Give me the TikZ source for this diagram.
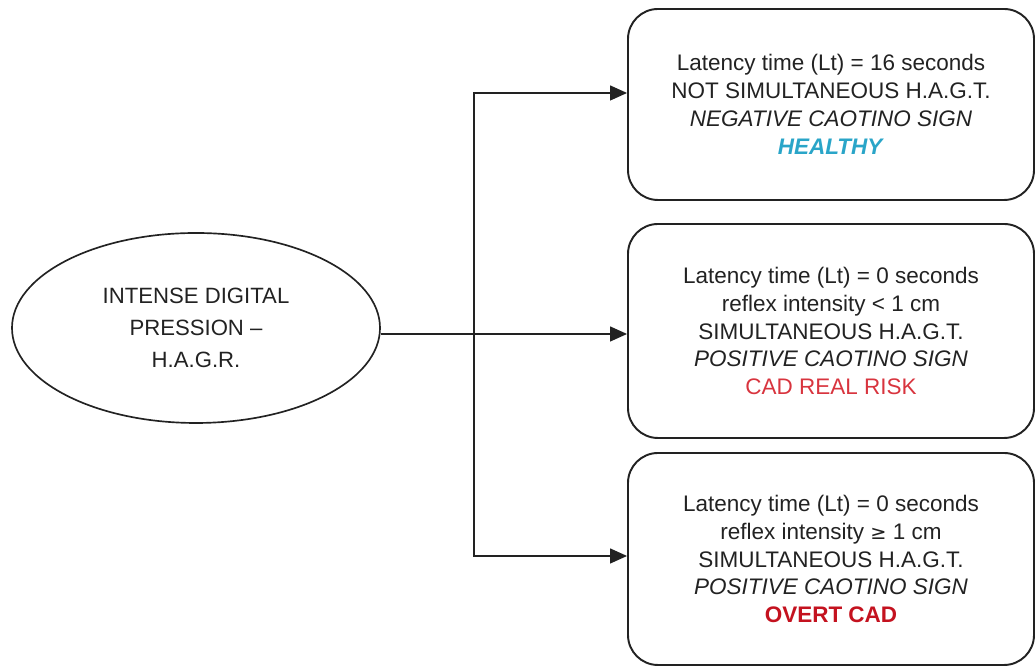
\documentclass[tikz,border=0pt]{standalone}
\usepackage{fontspec}
\setmainfont{Liberation Sans}
\usetikzlibrary{arrows.meta,shapes.geometric}
\definecolor{ink}{HTML}{222222}
\definecolor{healthy}{HTML}{2AA5C8}
\definecolor{risk}{HTML}{D8343E}
\definecolor{overt}{HTML}{C4121F}
\newcommand{\gte}{{\fontspec{DejaVu Sans}\fontsize{11}{16}\selectfont ≥}}
\begin{document}
\begin{tikzpicture}[
   box/.style={draw=ink, line width=1.1pt, rounded corners=0.6cm, minimum width=8.12cm,
               align=center, text=ink, font=\fontsize{12.8}{15.8}\selectfont},
   lead/.style={draw=ink, line width=0.75pt},
   tip/.style={-{Triangle[length=0.34cm,width=0.3cm]}}]
   \useasboundingbox (0,0) rectangle (20.72,13.32);
   \node[ellipse, draw=ink, line width=0.95pt, minimum width=7.36cm, minimum height=3.80cm,
         align=center, text=ink, font=\fontsize{12.6}{18}\selectfont]
      (hagr) at (3.92,6.76) {INTENSE DIGITAL\\PRESSION --\\H.A.G.R.};
   \node[box, minimum height=3.82cm] (healthy) at (16.62,11.23)
      {Latency time (Lt) = 16 seconds\\NOT SIMULTANEOUS H.A.G.T.\\
       \textit{NEGATIVE CAOTINO SIGN}\\\textcolor{healthy}{\textbf{\textit{HEALTHY}}}};
   \node[box, minimum height=4.28cm] (risk) at (16.62,6.70)
      {Latency time (Lt) = 0 seconds\\reflex intensity < 1 cm\\SIMULTANEOUS H.A.G.T.\\
       \textit{POSITIVE CAOTINO SIGN}\\\textcolor{risk}{CAD REAL RISK}};
   \node[box, minimum height=4.24cm] (overt) at (16.62,2.14)
      {Latency time (Lt) = 0 seconds\\reflex intensity \gte{} 1 cm\\SIMULTANEOUS H.A.G.T.\\
       \textit{POSITIVE CAOTINO SIGN}\\\textcolor{overt}{\textbf{OVERT CAD}}};
   \coordinate (fork) at (9.48,6.64);
   \draw[lead, tip] (hagr.east |- fork) -- (risk.west |- fork);
   \draw[lead, tip] (fork) |- ([yshift=0.23cm]healthy.west);
   \draw[lead, tip] (fork) |- ([yshift=0.06cm]overt.west);
\end{tikzpicture}
\end{document}
